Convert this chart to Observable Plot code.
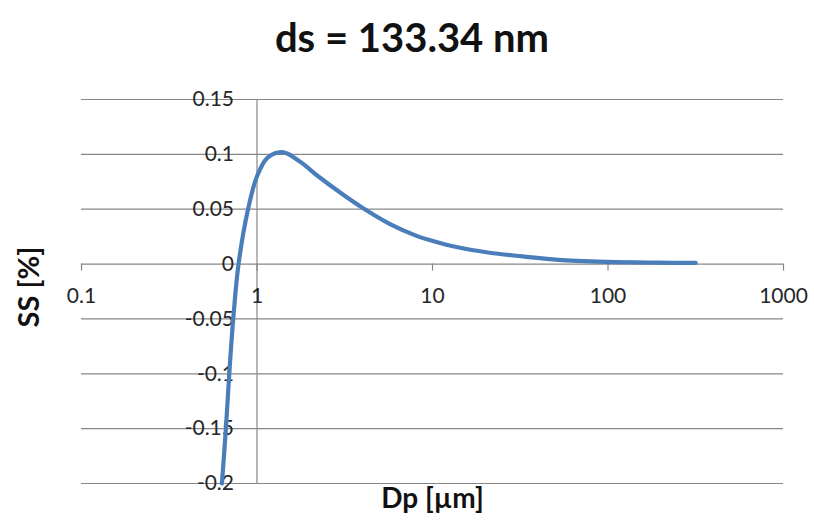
<!DOCTYPE html>
<html><head><meta charset="utf-8">
<script src="https://cdn.jsdelivr.net/npm/d3@7"></script>
<script src="https://cdn.jsdelivr.net/npm/@observablehq/plot@0.6"></script>
<style>
body{margin:0;background:#fff;font-family:Lato,sans-serif;}
#wrap{width:814px;height:525px;position:relative;overflow:hidden;}
#title{height:70px;text-align:center;font-weight:bold;font-size:40px;line-height:74px;padding-left:10px;color:#111;}
#ylab{position:absolute;left:27px;top:287px;transform:translate(-50%,-50%) rotate(-90deg);font-weight:bold;font-size:29px;color:#111;white-space:nowrap;}
</style></head><body>
<div id="wrap"><div id="title"></div><div id="chart"></div><div id="ylab"></div></div>
<script>
const titleText = "ds = 133.34 nm";
const xLabel = "Dp [µm]";
const yLabel = "SS [%]";
const dp = [0.631, 0.665, 0.695, 0.732, 0.785, 0.889, 1.0, 1.15, 1.40, 1.77, 2.21, 2.99, 4.05, 5.73, 8.11, 10, 13.7, 21.1, 32.6, 52, 100, 193, 316];
const ss = [-0.2, -0.15, -0.1, -0.05, 0, 0.05, 0.08, 0.097, 0.102, 0.093, 0.0805, 0.065, 0.0506, 0.0364, 0.0257, 0.0212, 0.0155, 0.0103, 0.007, 0.0038, 0.002, 0.0013, 0.001];
const xTicks = [0.1, 1, 10, 100, 1000];
const xTickLabels = ["0.1", "1", "10", "100", "1000"];
const yTicks = [0.15, 0.1, 0.05, 0, -0.05, -0.1, -0.15, -0.2];
const yTickLabels = ["0.15", "0.1", "0.05", "0", "-0.05", "-0.1", "-0.15", "-0.2"];

document.getElementById("title").textContent = titleText;
document.getElementById("ylab").textContent = yLabel;
const data = dp.map((d, i) => ({dp: d, ss: ss[i]}));
const grid = "#878787";
const chart = Plot.plot({
  width: 814, height: 455,
  marginTop: 29, marginBottom: 42, marginLeft: 81, marginRight: 31,
  x: {type: "log", domain: [0.1, 1000], axis: null},
  y: {domain: [-0.2, 0.15], axis: null},
  style: {fontFamily: "Lato, sans-serif", background: "#fff", overflow: "visible"},
  marks: [
    Plot.ruleY(yTicks, {stroke: grid, strokeWidth: 1.2}),
    Plot.ruleX([1], {stroke: grid, strokeWidth: 1.2}),
    Plot.ruleX(xTicks, {y1: 0, y2: 0, insetBottom: -7, stroke: grid, strokeWidth: 1.2}),
    Plot.text(yTicks, {x: 1, y: d => d, text: (d, i) => yTickLabels[i], textAnchor: "end", dx: -23, fontSize: 21, fill: "#262626"}),
    Plot.text(xTicks, {x: d => d, y: 0, text: (d, i) => xTickLabels[i], dy: 32, fontSize: 21, fill: "#262626"}),
    Plot.line(data, {x: "dp", y: "ss", stroke: "#4A7EBB", strokeWidth: 4.2, curve: "catmull-rom"}),
    Plot.text([xLabel], {frameAnchor: "bottom", dy: 24, fontSize: 28, fontWeight: "bold", fill: "#111"})
  ]
});
document.getElementById("chart").appendChild(chart);
</script>
</body></html>
